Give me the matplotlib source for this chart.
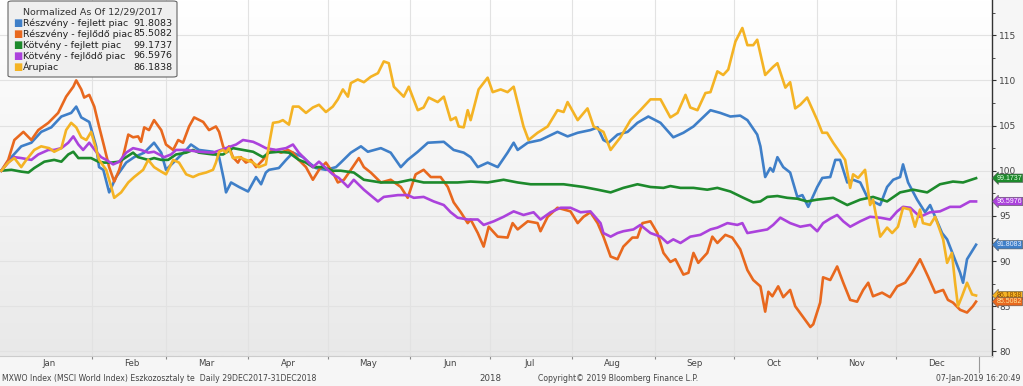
import matplotlib.pyplot as plt
import matplotlib.dates as mdates
import numpy as np
from matplotlib.colors import LinearSegmentedColormap
from matplotlib.patches import FancyBboxPatch

start = np.datetime64('2017-12-29')

# days after 29 Dec 2017, normalized values (29 Dec 2017 = 100)
blue_days = [0.0, 3.8, 7.5, 11.3, 15.0, 18.8, 22.6, 26.3, 28.2, 30.1, 33.1, 35.7, 36.8, 38.4, 40.6, 43.2,
             47.0, 50.0, 53.8, 57.5, 60.2, 62.0, 65.8, 69.6, 71.4, 74.4, 79.7, 82.0, 83.8, 84.6, 86.5, 89.5,
             92.9, 95.9, 97.8, 99.6, 100.8, 104.5, 107.2, 109.8, 113.6, 115.8, 118.4, 122.2, 126.0, 127.8,
             131.6, 135.4, 138.0, 142.9, 146.6, 150.4, 153.0, 156.8, 160.6, 166.6, 170.3, 174.1, 176.7,
             179.4, 183.1, 186.9, 190.6, 192.9, 194.4, 198.2, 203.0, 209.4, 213.2, 217.0, 221.8, 224.5,
             226.7, 228.6, 232.0, 235.8, 239.5, 243.6, 248.2, 253.0, 256.8, 260.6, 267.0, 270.7, 274.5,
             278.2, 280.9, 284.6, 285.8, 287.6, 289.5, 290.6, 292.2, 294.4, 297.0, 299.7, 301.6, 303.8,
             307.2, 309.1, 312.1, 314.0, 315.8, 318.5, 320.7, 323.4, 326.0, 328.2, 330.9, 333.5, 335.8,
             338.4, 339.5, 341.4, 344.8, 347.8, 349.7, 351.6, 354.2, 356.1, 361.0, 362.1, 363.6, 367.0]
blue_vals = [100.0, 101.5, 102.7, 103.1, 104.3, 104.8, 106.0, 106.4, 107.1, 105.9, 105.4, 102.7, 100.4, 100.1,
             97.6, 99.3, 100.9, 101.5, 102.0, 103.1, 102.0, 100.1, 101.2, 102.3, 102.9, 102.3, 102.1, 101.5,
             99.0, 97.6, 98.7, 98.2, 97.7, 99.3, 98.5, 99.8, 100.1, 100.3, 101.2, 102.0, 101.5, 100.9, 100.3,
             100.1, 100.4, 100.9, 102.0, 102.7, 102.1, 102.5, 102.0, 100.4, 101.2, 102.1, 103.1, 103.2, 102.3,
             102.0, 101.5, 100.4, 100.9, 100.4, 102.0, 103.1, 102.3, 103.1, 103.4, 104.3, 103.8, 104.2, 104.5,
             104.8, 103.4, 103.1, 104.0, 104.3, 105.3, 106.0, 105.3, 103.7, 104.2, 104.9, 106.7, 106.4, 106.0,
             106.1, 105.6, 104.0, 102.7, 99.3, 100.3, 99.9, 101.5, 100.4, 99.8, 97.1, 97.3, 96.0, 98.2, 99.2,
             99.3, 101.2, 101.2, 98.7, 99.0, 98.7, 97.1, 96.6, 96.2, 98.2, 99.0, 99.3, 100.7, 98.7, 96.8, 95.4,
             96.2, 94.9, 93.1, 92.4, 88.7, 87.6, 90.2, 91.8083]

orange_days = [0.0, 2.6, 4.9, 8.3, 11.3, 13.9, 17.7, 21.4, 24.4, 27.1, 28.2, 30.1, 31.2, 33.1, 35.0, 36.8,
               38.7, 40.6, 42.5, 44.4, 46.2, 47.8, 49.6, 51.5, 52.6, 53.8, 55.6, 57.5, 60.2, 62.0, 64.7,
               66.6, 68.4, 70.7, 72.6, 76.0, 78.2, 80.8, 82.0, 83.5, 84.6, 85.7, 87.2, 89.1, 90.2, 92.1,
               94.0, 95.9, 98.5, 100.4, 102.6, 105.3, 107.9, 109.8, 112.0, 114.7, 117.3, 119.6, 122.2,
               124.8, 126.7, 129.0, 131.6, 134.6, 136.5, 139.1, 142.9, 146.6, 150.4, 153.0, 156.0, 159.0,
               161.7, 165.4, 168.1, 170.3, 173.0, 175.6, 176.7, 179.4, 181.6, 183.5, 186.9, 190.6, 192.5,
               194.4, 198.2, 201.9, 203.0, 205.7, 209.4, 214.3, 217.0, 219.2, 221.8, 224.5, 226.7, 229.4,
               232.0, 234.2, 237.6, 239.5, 241.4, 244.4, 247.0, 249.3, 251.9, 253.8, 256.8, 258.7, 260.6,
               262.4, 265.8, 267.7, 269.6, 272.6, 275.2, 278.2, 280.9, 283.1, 285.8, 287.6, 288.8, 290.3,
               292.5, 294.4, 297.0, 298.9, 301.9, 304.6, 305.7, 308.3, 309.4, 312.1, 314.7, 317.0, 319.6,
               322.2, 324.5, 326.4, 328.2, 331.6, 334.6, 337.3, 340.3, 342.9, 345.9, 348.9, 351.6, 354.6,
               356.4, 358.3, 361.0, 363.6, 365.8, 367.0]
orange_vals = [100.0, 101.2, 103.4, 104.3, 103.4, 104.5, 105.3, 106.4, 108.2, 109.3, 110.0, 109.0, 108.1, 108.4,
               107.1, 104.9, 102.7, 100.4, 98.8, 100.1, 102.0, 104.0, 103.7, 103.8, 103.2, 104.8, 104.5, 105.6,
               104.5, 102.9, 102.3, 103.4, 103.1, 104.9, 105.9, 105.4, 104.5, 104.9, 104.3, 102.7, 102.0, 102.7,
               101.5, 100.9, 101.5, 100.9, 101.2, 100.4, 101.2, 102.0, 102.3, 102.0, 102.3, 102.0, 101.2, 100.4,
               99.0, 100.1, 100.9, 99.8, 98.7, 99.0, 100.1, 101.4, 100.4, 99.8, 98.7, 99.0, 98.2, 97.0, 99.6,
               100.1, 99.3, 99.3, 98.2, 96.5, 95.4, 94.2, 94.6, 93.1, 91.6, 93.8, 92.7, 92.6, 94.2, 93.5, 94.4,
               94.2, 93.3, 94.9, 95.9, 95.5, 94.2, 94.9, 95.4, 94.2, 92.7, 90.5, 90.2, 91.6, 92.6, 92.6, 94.2,
               94.4, 93.1, 90.9, 89.9, 90.2, 88.5, 88.7, 90.9, 89.8, 90.9, 92.7, 92.0, 92.9, 92.6, 91.3, 89.0,
               87.9, 87.2, 84.4, 86.6, 86.1, 87.2, 86.0, 86.8, 85.0, 83.8, 82.7, 83.0, 85.4, 88.2, 87.9, 89.4,
               87.6, 85.7, 85.5, 86.8, 87.6, 86.1, 86.5, 86.0, 87.2, 87.6, 88.7, 90.2, 88.3, 86.5, 86.8, 85.7,
               85.4, 84.6, 84.3, 85.0, 85.5082]

green_days = [0.0, 3.8, 7.5, 10.2, 12.4, 16.2, 19.9, 22.6, 25.2, 27.1, 29.0, 31.2, 33.8, 36.5, 38.7, 41.4,
              44.4, 47.0, 49.6, 51.5, 55.3, 57.5, 60.2, 62.8, 65.8, 69.6, 72.2, 74.4, 79.7, 83.5, 87.2, 91.0,
              94.8, 98.5, 100.8, 104.5, 108.3, 112.0, 114.7, 117.3, 121.1, 124.8, 127.8, 132.7, 136.5, 142.9,
              149.3, 154.2, 159.0, 165.4, 171.8, 176.7, 183.1, 189.1, 194.4, 199.3, 205.7, 211.7, 219.2,
              224.5, 229.4, 234.2, 239.5, 244.4, 249.3, 251.9, 255.7, 260.6, 265.8, 269.6, 274.5, 279.4,
              283.1, 285.8, 288.4, 292.2, 295.9, 299.7, 303.4, 307.2, 313.2, 318.5, 323.4, 328.2, 333.5,
              338.4, 343.3, 348.6, 353.4, 358.3, 362.1, 367.0]
green_vals = [100.0, 100.1, 99.9, 99.8, 100.3, 101.0, 101.2, 101.0, 101.8, 102.1, 101.4, 101.4, 101.4, 101.0,
              100.9, 100.9, 101.0, 101.5, 102.0, 101.5, 101.2, 101.4, 101.2, 101.2, 101.8, 102.0, 102.3, 102.0,
              101.8, 101.8, 102.5, 102.3, 102.1, 101.5, 102.0, 102.1, 102.0, 101.2, 100.9, 100.4, 100.4, 100.0,
              100.0, 99.8, 99.0, 98.7, 98.7, 99.0, 98.7, 98.7, 98.7, 98.8, 98.7, 99.0, 98.7, 98.5, 98.5, 98.5,
              98.2, 97.9, 97.6, 98.1, 98.5, 98.2, 98.1, 98.3, 98.1, 98.1, 97.9, 98.1, 97.7, 97.0, 96.5, 96.6,
              97.1, 97.2, 97.0, 96.9, 96.6, 96.8, 97.0, 96.2, 96.8, 97.1, 96.6, 97.6, 97.9, 97.6, 98.5, 98.8,
              98.7, 99.1737]

purple_days = [0.0, 2.6, 4.9, 7.5, 11.3, 13.9, 17.7, 19.9, 22.6, 25.2, 27.1, 29.0, 30.8, 33.1, 35.7, 37.6,
               39.5, 42.1, 44.4, 47.0, 49.6, 52.6, 55.3, 57.5, 61.3, 63.9, 65.8, 69.6, 74.4, 79.7, 84.6, 88.4,
               91.0, 94.8, 97.0, 99.6, 103.4, 107.2, 109.8, 112.0, 114.7, 117.3, 119.6, 122.2, 124.8, 127.1,
               130.5, 132.7, 136.5, 141.8, 144.0, 149.3, 153.0, 155.3, 159.0, 162.8, 166.6, 169.2, 171.8,
               175.6, 179.4, 181.6, 185.4, 189.1, 192.9, 196.6, 200.4, 203.0, 206.8, 210.6, 214.3, 218.1,
               221.8, 225.6, 226.7, 229.4, 232.0, 234.2, 238.0, 240.6, 244.4, 248.2, 250.8, 253.0, 255.7,
               259.4, 263.2, 267.0, 269.6, 273.4, 277.1, 279.0, 280.9, 284.6, 288.4, 290.6, 293.3, 297.0,
               300.8, 304.6, 307.2, 309.4, 312.1, 314.7, 317.0, 319.6, 323.4, 327.1, 330.9, 334.6, 337.3,
               339.5, 342.2, 345.9, 349.7, 353.4, 357.2, 361.0, 364.7, 367.0]
purple_vals = [100.0, 100.9, 101.5, 101.4, 101.2, 101.8, 102.3, 102.3, 102.5, 103.1, 103.8, 102.9, 102.3, 103.1,
               102.1, 101.5, 101.2, 100.7, 101.0, 102.0, 102.5, 102.3, 102.0, 102.1, 101.5, 101.8, 102.3, 102.3,
               102.1, 102.0, 102.5, 102.9, 103.4, 103.2, 102.9, 102.5, 102.3, 102.5, 102.9, 102.0, 101.2, 100.4,
               101.0, 100.3, 99.6, 99.2, 98.2, 99.0, 97.9, 96.6, 97.1, 97.3, 97.3, 97.0, 97.1, 96.6, 96.2, 95.4,
               94.8, 94.6, 94.6, 94.0, 94.4, 94.9, 95.5, 95.1, 95.4, 94.6, 95.4, 95.9, 95.9, 95.4, 95.5, 94.2,
               93.1, 92.7, 93.1, 93.3, 93.5, 94.0, 93.1, 92.7, 92.0, 92.4, 92.0, 92.7, 92.9, 93.5, 93.7, 94.2,
               94.0, 94.2, 93.1, 93.3, 93.5, 94.0, 94.8, 94.2, 93.8, 94.0, 93.3, 94.2, 94.7, 95.1, 94.4, 93.8,
               94.4, 94.9, 94.8, 94.6, 95.5, 96.0, 95.9, 94.9, 95.4, 95.5, 96.0, 96.0, 96.6, 96.5976]

yellow_days = [0.0, 2.6, 4.9, 7.5, 9.4, 12.4, 15.0, 18.0, 19.9, 22.6, 24.4, 26.3, 28.2, 30.1, 32.0, 33.8,
               35.0, 36.8, 39.5, 41.4, 42.5, 45.1, 47.8, 50.0, 53.4, 55.3, 57.5, 60.2, 62.0, 64.7, 66.9, 69.6,
               72.2, 74.4, 77.1, 79.7, 80.8, 82.0, 83.5, 84.6, 85.7, 87.2, 89.5, 92.1, 94.8, 97.0, 99.6,
               100.8, 102.3, 104.5, 106.0, 108.3, 109.8, 112.0, 114.7, 117.3, 119.6, 122.2, 124.8, 126.7,
               128.6, 130.5, 131.6, 134.2, 136.5, 139.1, 141.8, 144.0, 145.9, 147.8, 151.5, 153.4, 156.8,
               159.0, 160.9, 164.3, 166.6, 169.2, 171.1, 172.2, 174.1, 175.6, 176.7, 179.7, 183.1, 185.0,
               188.0, 190.6, 192.9, 194.4, 196.6, 198.5, 201.9, 205.7, 209.4, 211.7, 213.2, 217.0, 220.7,
               223.0, 226.7, 229.4, 233.1, 236.9, 240.6, 244.4, 248.2, 251.9, 254.6, 257.6, 259.4, 262.1,
               265.1, 267.0, 269.6, 271.8, 273.7, 276.4, 279.0, 280.9, 283.1, 284.6, 287.6, 290.6, 292.2,
               295.2, 297.0, 298.9, 300.8, 303.4, 307.2, 309.1, 310.9, 313.2, 315.8, 317.7, 319.6, 320.7,
               322.6, 325.2, 327.1, 328.2, 330.9, 333.5, 335.4, 337.6, 339.5, 342.2, 344.0, 345.9, 347.0,
               349.7, 351.6, 354.6, 356.1, 357.9, 359.1, 360.2, 361.7, 363.6, 365.5, 367.0]
yellow_vals = [100.0, 100.9, 101.4, 100.4, 101.2, 102.3, 102.7, 102.5, 102.1, 102.5, 104.5, 105.3, 104.8, 103.7,
               103.4, 104.3, 103.1, 101.2, 100.1, 98.2, 97.0, 97.6, 98.7, 99.3, 100.1, 101.2, 100.4, 99.9, 99.6,
               101.2, 100.9, 99.6, 99.3, 99.6, 99.8, 100.1, 100.9, 102.1, 102.3, 102.0, 102.5, 101.4, 101.5, 101.2,
               100.9, 100.4, 100.7, 102.9, 105.3, 105.4, 105.6, 105.1, 107.1, 107.1, 106.4, 107.0, 107.3, 106.5,
               107.1, 107.9, 109.0, 108.2, 109.7, 110.1, 109.8, 110.4, 110.8, 112.1, 111.9, 109.3, 108.2, 109.3,
               106.7, 107.0, 108.1, 107.6, 108.2, 105.6, 105.9, 104.9, 104.8, 106.7, 105.6, 109.0, 110.3, 108.7,
               109.0, 108.7, 109.3, 107.5, 104.9, 103.4, 104.2, 104.9, 106.7, 106.5, 107.6, 105.6, 106.9, 104.9,
               104.3, 102.3, 103.7, 105.6, 106.7, 107.9, 107.9, 105.9, 106.4, 108.4, 107.0, 106.7, 108.6, 108.7,
               111.0, 110.6, 111.2, 114.3, 115.8, 113.9, 113.9, 114.5, 110.6, 111.5, 111.9, 109.2, 109.8, 106.9,
               107.3, 108.1, 105.6, 104.2, 104.2, 103.1, 102.0, 101.2, 98.1, 99.6, 99.2, 100.1, 96.2, 96.8, 92.7,
               93.7, 93.1, 93.8, 95.9, 95.7, 93.8, 95.7, 94.2, 94.0, 94.9, 92.4, 89.8, 90.9, 87.6, 85.0, 86.1,
               87.6, 86.3, 86.1838]

names = ['Részvény - fejlett piac', 'Részvény - fejlődő piac', 'Kötvény - fejlett piac',
         'Kötvény - fejlődő piac', 'Árupiac']
last_vals = [91.8083, 85.5082, 99.1737, 96.5976, 86.1838]
colors = ['#3f7fc8', '#e8681e', '#1d8a2c', '#ab42dc', '#f4b324']
tag_text = ['#e8f0ff', '#ffe9a0', '#e6ffe6', '#ffffff', '#8a4a00']

series = [(blue_days, blue_vals), (orange_days, orange_vals), (green_days, green_vals),
          (purple_days, purple_vals), (yellow_days, yellow_vals)]

plt.rcParams['font.family'] = ['DejaVu Sans']

fig = plt.figure(figsize=(10.23, 3.86), dpi=100, facecolor='#f6f6f6')
ax = fig.add_axes([0.0, 0.078, 0.9697, 0.922])

t0 = mdates.date2num(start)

# background gradient
grad = LinearSegmentedColormap.from_list('bg', ['#ffffff', '#e9e9e9'])
ax.imshow(np.linspace(0, 1, 256).reshape(-1, 1), extent=[0, 1, 0, 1], transform=ax.transAxes,
          cmap=grad, aspect='auto', zorder=0)

for (d, v), c in zip(series, colors):
    ax.plot(t0 + np.array(d), v, color=c, lw=1.9, zorder=3, solid_joinstyle='round')

ax.set_xlim(t0 - 0.5, t0 + 373)
ax.set_ylim(79.5, 118.9)

# x axis: ticks at month starts, labels mid-month
month_starts = [mdates.date2num(np.datetime64(f'2018-{m:02d}-01')) for m in range(2, 13)]
month_mid = [mdates.date2num(np.datetime64(f'2018-{m:02d}-16')) for m in range(1, 13)]
ax.set_xticks(month_starts)
ax.set_xticklabels([])
ax.set_xticks(month_mid, minor=True)
ax.set_xticklabels(['Jan', 'Feb', 'Mar', 'Apr', 'May', 'Jun', 'Jul', 'Aug', 'Sep', 'Oct', 'Nov', 'Dec'],
                   minor=True)
ax.tick_params(axis='x', which='major', length=2.5, color='#888888', direction='out')
ax.tick_params(axis='x', which='minor', length=0, labelsize=6.2, labelcolor='#444444', pad=2)
ax.grid(axis='x', which='major', color='#e2e2e2', lw=0.8, zorder=1)

# year boundary tick
y2019 = mdates.date2num(np.datetime64('2019-01-01'))
ax.plot([y2019, y2019], [0, -0.045], transform=ax.get_xaxis_transform(), color='#999999', lw=0.8,
        clip_on=False)
ax.text(mdates.date2num(np.datetime64('2018-07-01')), -0.052, '2018', transform=ax.get_xaxis_transform(),
        ha='center', va='top', fontsize=6.2, color='#444444')

# y axis on the right
ax.yaxis.tick_right()
ax.set_yticks(np.arange(80, 116, 5))
ax.set_yticks(np.arange(82.5, 118, 2.5), minor=True)
ax.tick_params(axis='y', which='major', length=3, labelsize=6.5, labelcolor='#444444', color='#333333', pad=2)
ax.tick_params(axis='y', which='minor', length=2, color='#333333')
ax.grid(axis='y', which='major', color='#e2e2e2', lw=0.8, zorder=1)

for s in ['top', 'left']:
    ax.spines[s].set_visible(False)
ax.spines['right'].set_color('#333333')
ax.spines['right'].set_linewidth(1.0)
ax.spines['bottom'].set_color('#cccccc')

# value tags on the right axis
for i in [2, 3, 0, 4, 1]:
    ax.annotate(f'{last_vals[i]:.4f}', xy=(1.0, last_vals[i]), xycoords=('axes fraction', 'data'),
                xytext=(3.2, 0), textcoords='offset points', ha='left', va='center', fontsize=5.0,
                family='Liberation Sans', color=tag_text[i], annotation_clip=False, zorder=10,
                bbox=dict(boxstyle='larrow,pad=0.1', fc=colors[i], ec='#555555', lw=0.4))

# legend box
box = FancyBboxPatch((8 / 1023, 1 - 77 / 386), 169 / 1023, 76 / 386,
                     boxstyle='round,pad=0,rounding_size=0.004', transform=fig.transFigure,
                     fc='#efefef', ec='#666666', lw=0.8, zorder=20)
fig.patches.append(box)
fig.text(93 / 1023, 1 - 12 / 386, 'Normalized As Of 12/29/2017', ha='center', va='center', fontsize=6.8,
         color='#333333', zorder=21)
for i, (n, v, c) in enumerate(zip(names, last_vals, colors)):
    yy = 1 - (23 + i * 11) / 386
    fig.text(13 / 1023, yy, '\u25A0', ha='left', va='center', fontsize=7, color=c, zorder=21)
    fig.text(23 / 1023, yy, n, ha='left', va='center', fontsize=6.8, color='#222222', zorder=21)
    fig.text(172 / 1023, yy, f'{v:.4f}', ha='right', va='center', fontsize=6.8, color='#222222', zorder=21)

# footer
fig.text(2 / 1023, 0.02, 'MXWO Index (MSCI World Index) Eszkozosztaly te  Daily 29DEC2017-31DEC2018',
         ha='left', va='center', fontsize=5.6, color='#444444')
fig.text(538 / 1023, 0.02, 'Copyright\u00a9 2019 Bloomberg Finance L.P.', ha='left', va='center',
         fontsize=5.6, color='#444444')
fig.text(1020 / 1023, 0.02, '07-Jan-2019 16:20:49', ha='right', va='center', fontsize=5.6, color='#444444')

plt.savefig('out.png', dpi=100, facecolor=fig.get_facecolor())
